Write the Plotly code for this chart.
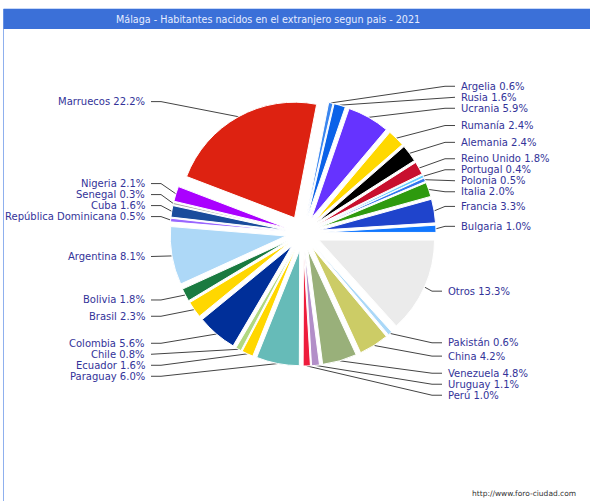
import numpy as np
import plotly.graph_objects as go

# ---- data (clockwise from the top) ----
countries = ["Argelia", "Rusia", "Ucrania", "Rumanía", "Alemania", "Reino Unido",
             "Portugal", "Polonia", "Italia", "Francia", "Bulgaria", "Otros",
             "Pakistán", "China", "Venezuela", "Uruguay", "Perú", "Paraguay",
             "Ecuador", "Chile", "Colombia", "Brasil", "Bolivia", "Argentina",
             "República Dominicana", "Cuba", "Senegal", "Nigeria", "Marruecos"]
shares = [0.6, 1.6, 5.9, 2.4, 2.4, 1.8,
          0.4, 0.5, 2.0, 3.3, 1.0, 13.3,
          0.6, 4.2, 4.8, 1.1, 1.0, 6.0,
          1.6, 0.8, 5.6, 2.3, 1.8, 8.1,
          0.5, 1.6, 0.3, 2.1, 22.2]
colors = ["#3a86f0", "#0b62e8", "#6633ff", "#ffd800", "#000000", "#c8102e",
          "#66ccff", "#3377ee", "#2e9a0e", "#1f44cc", "#1177ff", "#ebebeb",
          "#aad8f8", "#cccc66", "#99b07a", "#b28ec8", "#ee1c3c", "#66bbb8",
          "#ffd700", "#b0d880", "#002f99", "#ffd700", "#1a7a40", "#add8f7",
          "#9966ff", "#1a4c9c", "#aaaaaa", "#aa00ff", "#dd2211"]
title = "Málaga - Habitantes nacidos en el extranjero segun pais - 2021"
source = "http://www.foro-ciudad.com"

# ---- layout constants (pixels) ----
W, H = 590, 501
CX, CY = 303, 233
EXT = 133
PULL = 0.15
ROT = 11
R_LAB = 148
GAP = 11

fig = go.Figure()

# label geometry derived from the data
vals = np.array(shares, dtype=float)
total = vals.sum()
cum = np.concatenate([[0], np.cumsum(vals)[:-1]])
mid = np.radians(ROT + (cum + vals / 2) / total * 360)
sx, sy = np.sin(mid), -np.cos(mid)
ideal = (CY - 2) + R_LAB * sy
ly = ideal.copy()
right_idx = [i for i in range(len(vals)) if sx[i] >= 0]
left_idx = [i for i in range(len(vals)) if sx[i] < 0]
prev = None
for i in sorted(right_idx, key=lambda k: ideal[k]):
    if prev is not None:
        ly[i] = max(ideal[i], prev + GAP)
    prev = ly[i]
prev = None
for i in sorted(left_idx, key=lambda k: -ideal[k]):
    if prev is not None:
        ly[i] = min(ideal[i], prev - GAP)
    prev = ly[i]

lines_x, lines_y = [], []
annotations = []
for i in range(len(vals)):
    px, py = CX + EXT * sx[i], CY + EXT * sy[i]
    if sx[i] >= 0:
        lx = CX + (156 if sy[i] < 0 else 143)
        ex, tx = lx - 14, lx - 4
        anchor = "left"
    else:
        lx = CX - 156
        ex, tx = lx + 14, lx + 4
        anchor = "right"
    lines_x += [px, ex, tx, None]
    lines_y += [py, ly[i], ly[i], None]
    annotations.append(dict(x=lx, y=ly[i], xref="x", yref="y", showarrow=False,
                            text=f"{countries[i]} {shares[i]:.1f}%", xanchor=anchor,
                            yanchor="middle",
                            font=dict(family="DejaVu Sans", size=10, color="#333399")))

fig.add_trace(go.Scatter(x=lines_x, y=lines_y, mode="lines",
                         line=dict(color="#444444", width=1), hoverinfo="skip",
                         showlegend=False))

fig.add_trace(go.Pie(
    labels=countries, values=shares, sort=False, direction="clockwise",
    rotation=ROT, pull=PULL, textinfo="none", hoverinfo="label+percent",
    showlegend=False,
    marker=dict(colors=colors, line=dict(color="white", width=1)),
    domain=dict(x=[(CX - EXT) / W, (CX + EXT) / W],
                y=[1 - (CY + EXT) / H, 1 - (CY - EXT) / H]),
))

annotations.append(dict(x=268, y=19.5, xref="x", yref="y", showarrow=False,
                        text=title, xanchor="center", yanchor="middle",
                        font=dict(family="DejaVu Sans", size=9.6, color="#e6ecff")))
annotations.append(dict(x=578, y=493, xref="x", yref="y", showarrow=False,
                        text=source, xanchor="right", yanchor="middle",
                        font=dict(family="DejaVu Sans", size=7.5, color="#333333")))

shapes = [
    dict(type="rect", xref="x", yref="y", x0=3.5, x1=W + 10, y0=9, y1=H + 10,
         line=dict(color="#8fb0ee", width=1), fillcolor="white", layer="below"),
    dict(type="rect", xref="x", yref="y", x0=3.5, x1=W + 10, y0=9, y1=29,
         line=dict(width=0), fillcolor="#3b70d8", layer="below"),
]

fig.update_layout(
    width=W, height=H, margin=dict(l=0, r=0, t=0, b=0),
    paper_bgcolor="white", plot_bgcolor="rgba(0,0,0,0)",
    xaxis=dict(range=[0, W], visible=False, fixedrange=True),
    yaxis=dict(range=[H, 0], visible=False, fixedrange=True),
    annotations=annotations, shapes=shapes, showlegend=False,
)

fig.write_html("out.html", config={"displayModeBar": False},
               post_script="document.body.style.margin='0px';document.body.style.overflow='hidden';")
